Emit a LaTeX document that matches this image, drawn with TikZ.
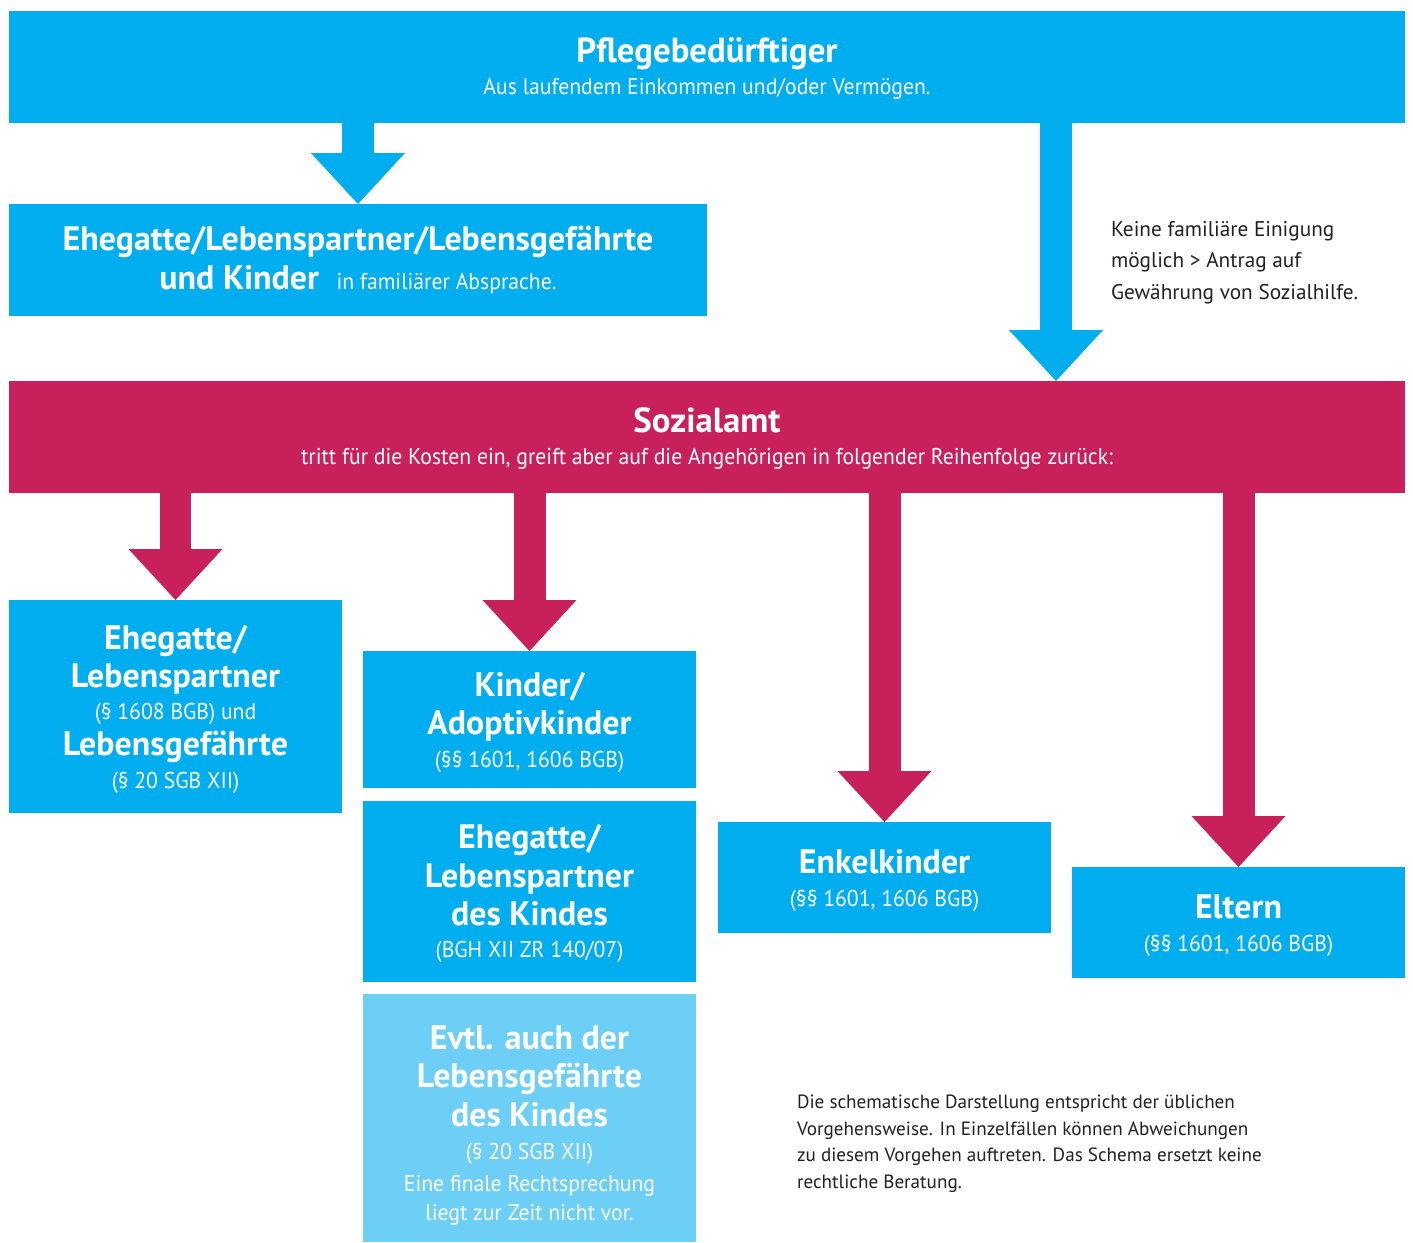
\documentclass[tikz,border=0pt]{standalone}
\usepackage{fontspec}
\setmainfont{PT Sans}[FakeStretch=0.95]
\newfontfamily\breitschrift{PT Sans}
\usetikzlibrary{arrows.meta}

\definecolor{pflegeblau}{HTML}{00AEEF}
\definecolor{hellblau}{HTML}{6DCFF6}
\definecolor{amtrot}{HTML}{C8205A}
\definecolor{textgrau}{HTML}{231F20}

\newcommand{\grosskopf}[1]{{\breitschrift\bfseries\fontsize{19.8}{20}\selectfont #1}}
\newcommand{\kopf}[1]{{\breitschrift\bfseries\fontsize{19.3}{20}\selectfont #1}}

\begin{document}
\begin{tikzpicture}[x=0.02cm, y=-0.02cm]
        \tikzstyle{every node}=[inner sep=0pt, outer sep=0pt, align=center, text=white, font=\fontsize{13}{20}\selectfont]
        \tikzstyle{breitbox}=[fill=pflegeblau, minimum width=27.92cm, minimum height=2.24cm]
        \tikzstyle{kasten}=[fill=pflegeblau, minimum width=6.66cm]
        \tikzstyle{blaupfeil}=[pflegeblau, line width=0.64cm, -{Triangle[width=1.88cm, length=1.02cm, line width=0pt]}]
        \tikzstyle{rotpfeil}=[blaupfeil, amtrot]
        \tikzstyle{hinweis}=[anchor=north west, align=left, text=textgrau]
        \useasboundingbox (0,0) rectangle (1413,1243);
        % obere Ebene
        \node [breitbox] (pflege) at (707, 67) {\grosskopf{\rule{0pt}{16pt}Pflegebedürftiger}\\[-1.8pt]Aus laufendem Einkommen und/oder Vermögen.};
        \node [fill=pflegeblau, minimum width=13.96cm, minimum height=2.24cm] (familie) at (358, 260) {\kopf{Ehegatte/Lebenspartner/Lebensgefährte}\\[2pt]\kopf{und Kinder}\hspace{10pt}in familiärer Absprache.};
        \node [breitbox, fill=amtrot] (sozial) at (707, 437) {\grosskopf{\rule{0pt}{16pt}Sozialamt}\\[-1.8pt]tritt für die Kosten ein, greift aber auf die Angehörigen in folgender Reihenfolge zurück:};
        \coordinate (antrag) at (1056, 250);
        \node [hinweis, font=\breitschrift\fontsize{12.1}{18.1}\selectfont] (einigung) at (1111, 221) {Keine familiäre Einigung\\möglich > Antrag auf\\Gewährung von Sozialhilfe.};
        % Angehoerige
        \node [kasten, minimum height=4.26cm] (partner) at (175.5, 706.5) {\kopf{\rule{0pt}{17pt}Ehegatte/}\\[1.5pt]\kopf{Lebenspartner}\\[-1.5pt](§ 1608 BGB) und\\[0.4pt]\kopf{Lebensgefährte}\\[-1.5pt](§ 20 SGB XII)};
        \node [kasten, minimum height=2.74cm] (kinder) at (529.5, 719.5) {\kopf{\rule{0pt}{17pt}Kinder/}\\[1.5pt]\kopf{Adoptivkinder}\\[-1.5pt](§§ 1601, 1606 BGB)};
        \node [kasten, minimum height=3.62cm] (schwieger) at (529.5, 891.5) {\kopf{\rule{0pt}{16pt}Ehegatte/}\\[2.5pt]\kopf{Lebenspartner}\\[1.5pt]\kopf{des Kindes}\\[-1.5pt](BGH XII ZR 140/07)};
        \node [kasten, fill=hellblau, minimum height=4.96cm] (gefaehrte) at (529.5, 1118) {\kopf{\rule{0pt}{22pt}Evtl. auch der}\\[1.5pt]\kopf{Lebensgefährte}\\[2pt]\kopf{des Kindes}\\[-1pt](§ 20 SGB XII)\\[-2pt]Eine finale Rechtsprechung\\[-3.5pt]liegt zur Zeit nicht vor.};
        \node [kasten, minimum height=2.22cm] (enkel) at (884.5, 877.5) {\kopf{\rule{0pt}{17pt}Enkelkinder}\\[-1.5pt](§§ 1601, 1606 BGB)};
        \node [kasten, minimum height=2.22cm] (eltern) at (1238.5, 922.5) {\kopf{\rule{0pt}{17pt}Eltern}\\[-1.5pt](§§ 1601, 1606 BGB)};
        \node [hinweis, font=\breitschrift\fontsize{10.9}{15.1}\selectfont] (schema) at (797, 1095) {Die schematische Darstellung entspricht der üblichen\\Vorgehensweise. In Einzelfällen können Abweichungen\\zu diesem Vorgehen auftreten. Das Schema ersetzt keine\\rechtliche Beratung.};
        % Pfeile
        \draw [blaupfeil] (pflege.south -| familie.north) -- (familie.north);
        \draw [blaupfeil] (pflege.south -| antrag) -- (sozial.north -| antrag);
        \draw [rotpfeil] (sozial.south -| partner.north) -- (partner.north);
        \draw [rotpfeil] (sozial.south -| kinder.north) -- (kinder.north);
        \draw [rotpfeil] (sozial.south -| enkel.north) -- (enkel.north);
        \draw [rotpfeil] (sozial.south -| eltern.north) -- (eltern.north);
\end{tikzpicture}
\end{document}
